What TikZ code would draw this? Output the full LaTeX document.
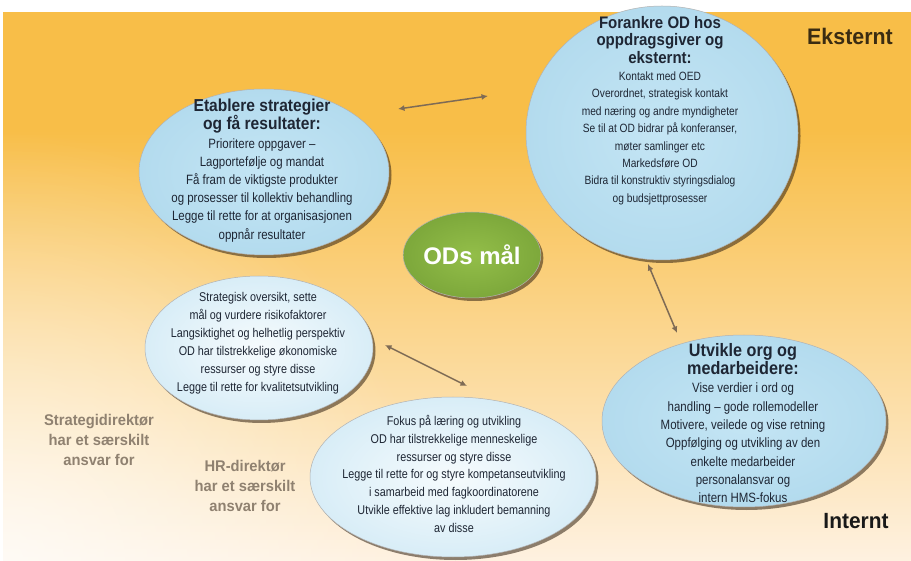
\documentclass[tikz,border=0pt]{standalone}
\usepackage{fontspec}
\setmainfont{Liberation Sans}
\newfontfamily\narrowfont[FakeStretch=0.85]{Liberation Sans}
\newfontfamily\headfont[FakeStretch=0.9]{Liberation Sans}
\newfontfamily\tagfont[FakeStretch=0.95]{Liberation Sans}
\usetikzlibrary{shapes.geometric,shadows,arrows.meta,fadings}
\definecolor{bgtop}{HTML}{F8BE48}
\definecolor{bgmid}{HTML}{FCD99E}
\definecolor{bgbot}{HTML}{FEF1E0}
\definecolor{bubble}{HTML}{C4E5F4}
\definecolor{bubbleedge}{HTML}{B3DBEE}
\definecolor{pale}{HTML}{F6FBFD}
\definecolor{paleedge}{HTML}{D8EDF7}
\definecolor{leaf}{HTML}{93BE49}
\definecolor{leafedge}{HTML}{7DA83B}
\definecolor{arrowc}{HTML}{7E6B55}
\definecolor{ink}{HTML}{1E2634}
\definecolor{tagc}{HTML}{8F8170}
\definecolor{brownink}{HTML}{3B2C12}
\tikzfading[name=cornerfade, inner color=transparent!0, outer color=transparent!100]
% one bold title line inside a bubble
\newcommand\ovalhead[2]{{\headfont\bfseries\fontsize{#1}{18}\selectfont #2}}

\begin{document}
\begin{tikzpicture}[x=1pt, y=-1pt,
  oval/.style={ellipse, inner sep=0pt, draw=black!30, line width=0.5pt,
    drop shadow={shadow xshift=2.5pt, shadow yshift=-3pt, fill=black!75!brown, opacity=0.55}},
  blueoval/.style={oval, shading=radial, inner color=bubble, outer color=bubbleedge},
  paleoval/.style={oval, shading=radial, inner color=pale, outer color=paleedge},
  ovaltext/.style={align=center, inner sep=0pt, text=ink, anchor=north},
  link/.style={<->, >={Latex[length=6.5pt, width=6pt]}, draw=arrowc, line width=1.5pt},
  tag/.style={align=center, inner sep=0pt, text=tagc, font=\tagfont\bfseries\fontsize{15.5}{20}\selectfont}]
  \useasboundingbox (0,0) rectangle (911,561);
  \fill[white] (0,0) rectangle (911,561);
  \fill[bgtop] (3,12) rectangle (911,130.5);
  \shade[top color=bgtop, middle color=bgmid, bottom color=bgbot] (3,130) rectangle (911,561);
  \begin{scope}
    \clip (3,130) rectangle (911,561);
    \fill[white, path fading=cornerfade, fill opacity=0.7] (0,561) circle (430);
  \end{scope}

  \node[blueoval, minimum width=250, minimum height=166] (etablere) at (264,172) {};
  \node[blueoval, minimum width=272, minimum height=254] (forankre) at (662,133) {};
  \node[blueoval, minimum width=284, minimum height=172] (utvikle) at (744,421) {};
  \node[paleoval, minimum width=228, minimum height=144] (oversikt) at (259,348) {};
  \node[paleoval, minimum width=286, minimum height=160] (laering) at (453,477) {};
  \node[oval, shading=radial, inner color=leaf, outer color=leafedge, minimum width=126, minimum height=86,
    text=white, font=\bfseries\fontsize{24}{28}\selectfont] (maal) at (472,255) {ODs mål};

  \node[ovaltext, font=\narrowfont\fontsize{13.5}{18.2}\selectfont] (etableretxt) at (262,99)
    {\ovalhead{17.3}{Etablere strategier}\\ \ovalhead{17.3}{og få resultater:}\\
     Prioritere oppgaver –\\ Lagportefølje og mandat\\
     Få fram de viktigste produkter\\ og prosesser til kollektiv behandling\\
     Legge til rette for at organisasjonen\\ oppnår resultater};
  \node[ovaltext, font=\narrowfont\fontsize{12}{17.4}\selectfont] (forankretxt) at (660,16)
    {\ovalhead{16.7}{Forankre OD hos}\\ \ovalhead{16.7}{oppdragsgiver og}\\ \ovalhead{16.7}{eksternt:}\\
     Kontakt med OED\\ Overordnet, strategisk kontakt\\
     med næring og andre myndigheter\\ Se til at OD bidrar på konferanser,\\ møter samlinger etc\\
     Markedsføre OD\\ Bidra til konstruktiv styringsdialog\\ og budsjettprosesser};
  \node[ovaltext, font=\narrowfont\fontsize{13.5}{18.3}\selectfont] (utvikletxt) at (743,343)
    {\ovalhead{18}{Utvikle org og}\\ \ovalhead{18}{medarbeidere:}\\
     Vise verdier i ord og\\ handling – gode rollemodeller\\
     Motivere, veilede og vise retning\\ Oppfølging og utvikling av den\\ enkelte medarbeider\\
     personalansvar og\\ intern HMS-fokus};
  \node[ovaltext, font=\narrowfont\fontsize{12.7}{18}\selectfont] (oversikttxt) at (258,292)
    {Strategisk oversikt, sette\\ mål og vurdere risikofaktorer\\ Langsiktighet og helhetlig perspektiv\\
     OD har tilstrekkelige økonomiske\\ ressurser og styre disse\\ Legge til rette for kvalitetsutvikling};
  \node[ovaltext, font=\narrowfont\fontsize{12.7}{17.8}\selectfont] (laeringtxt) at (454,415)
    {Fokus på læring og utvikling\\ OD har tilstrekkelige menneskelige\\ ressurser og styre disse\\
     Legge til rette for og styre kompetanseutvikling\\ i samarbeid med fagkoordinatorene\\
     Utvikle effektive lag inkludert bemanning\\ av disse};

  \node[tag] (stratlbl) at (99,440) {Strategidirektør\\ har et særskilt\\ ansvar for};
  \node[tag] (hrlbl) at (245,486) {HR-direktør\\ har et særskilt\\ ansvar for};
  \node[text=brownink, font=\tagfont\bfseries\fontsize{22.5}{24}\selectfont] (eksternt) at (850,36) {Eksternt};
  \node[text=black!90, font=\tagfont\bfseries\fontsize{22}{24}\selectfont] (internt) at (856,521) {Internt};

  \coordinate (e1) at (398,109);
  \coordinate (e2) at (488,96);
  \coordinate (f1) at (648,264);
  \coordinate (f2) at (677,333);
  \coordinate (s1) at (385,345);
  \coordinate (s2) at (467,386);
  \draw[link] (e1) -- (e2);
  \draw[link] (f1) -- (f2);
  \draw[link] (s1) -- (s2);
\end{tikzpicture}
\end{document}
